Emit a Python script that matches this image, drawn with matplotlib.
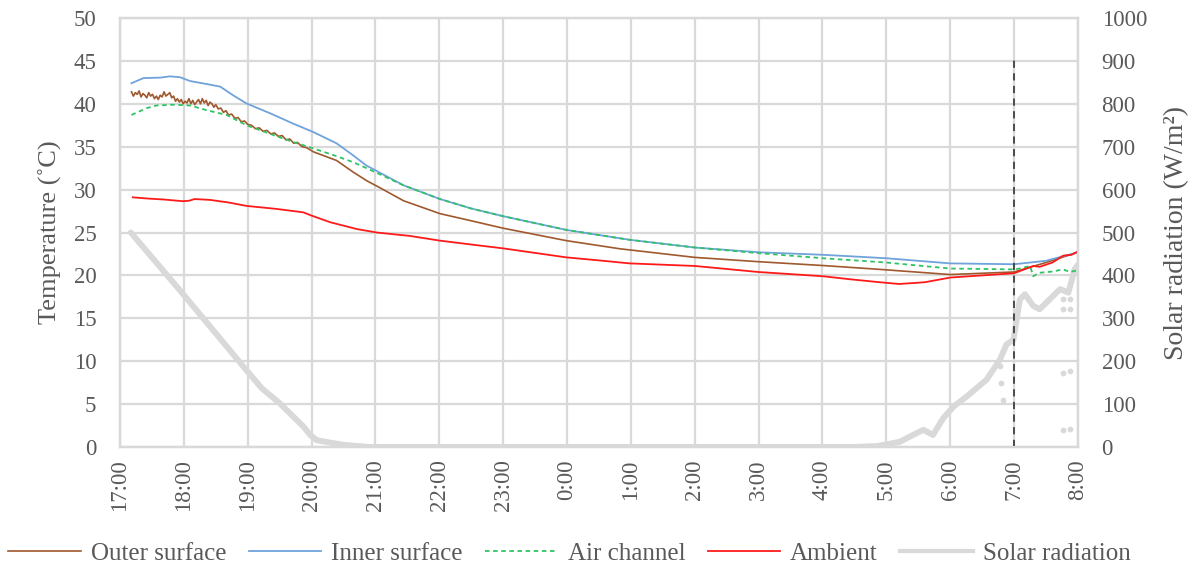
import matplotlib
matplotlib.use("Agg")
import matplotlib.pyplot as plt

plt.rcParams['font.family'] = ['Liberation Serif', 'DejaVu Serif']

# Hours after 17:00
hour_labels = ["17:00", "18:00", "19:00", "20:00", "21:00", "22:00", "23:00", "0:00",
               "1:00", "2:00", "3:00", "4:00", "5:00", "6:00", "7:00", "8:00"]

outer_t = [0.18, 0.21, 0.24, 0.27, 0.30, 0.33, 0.36, 0.39, 0.42, 0.45, 0.48, 0.51, 0.54,
           0.57, 0.60, 0.63, 0.66, 0.69, 0.72, 0.75, 0.78, 0.81, 0.84, 0.87, 0.90, 0.93,
           0.96, 0.99, 1.02, 1.05, 1.08, 1.11, 1.14, 1.17, 1.20, 1.23, 1.26, 1.29, 1.32,
           1.35, 1.38, 1.41, 1.44, 1.47, 1.50, 1.54, 1.58, 1.62, 1.66, 1.70, 1.75, 1.80,
           1.85, 1.90, 1.95, 2.00, 2.06, 2.12, 2.18, 2.24, 2.30, 2.36, 2.42, 2.48, 2.54,
           2.60, 2.66, 2.72, 2.78, 2.85, 2.92, 3.03, 3.39, 3.65, 3.86, 4.05, 4.44, 5.01,
           5.48, 6.00, 6.99, 7.83, 9.00, 9.99, 11.01, 11.90, 13.00, 14.00, 14.50, 15.00]
outer_T = [41.4, 40.9, 41.3, 41.1, 41.5, 40.8, 41.2, 41.0, 40.7, 41.3, 40.9, 41.1, 40.6,
           40.9, 40.5, 41.0, 40.8, 41.4, 40.9, 41.1, 41.3, 40.7, 40.9, 40.3, 40.6, 40.2,
           40.5, 40.0, 40.3, 40.1, 40.6, 40.0, 40.4, 39.9, 40.2, 40.5, 40.0, 40.6, 40.1,
           40.4, 39.8, 40.2, 40.0, 39.6, 39.9, 39.4, 39.5, 39.0, 39.2, 38.7, 38.8, 38.3,
           38.4, 37.9, 38.0, 37.6, 37.5, 37.1, 37.2, 36.8, 36.9, 36.5, 36.6, 36.2, 36.3,
           35.8, 35.9, 35.4, 35.5, 35.0, 34.9, 34.4, 33.4, 32.05, 31.05, 30.3, 28.7, 27.2,
           26.4, 25.5, 24.05, 23.1, 22.1, 21.6, 21.15, 20.7, 20.1, 20.4, 21.5, 22.7]

inner_t = [0.18, 0.37, 0.63, 0.78, 0.94, 1.10, 1.36, 1.57, 1.77, 1.98, 2.35, 2.71, 3.03,
           3.39, 3.65, 3.86, 4.05, 4.44, 5.01, 5.50, 6.00, 6.99, 7.98, 9.00, 9.99, 11.01,
           12.00, 13.00, 14.00, 14.50, 14.75, 15.00]
inner_T = [42.4, 43.0, 43.05, 43.2, 43.1, 42.65, 42.3, 42.0, 41.0, 40.05, 38.9, 37.7, 36.7,
           35.4, 34.0, 32.8, 32.05, 30.5, 28.9, 27.8, 26.9, 25.3, 24.15, 23.25, 22.7, 22.4,
           22.0, 21.4, 21.3, 21.7, 22.2, 22.7]

air_t = [0.18, 0.42, 0.57, 0.84, 1.10, 1.36, 1.67, 1.98, 2.35, 2.71, 3.03, 3.39, 3.65,
         3.86, 4.05, 4.44, 5.01, 5.50, 6.00, 6.99, 7.98, 9.00, 9.99, 11.01, 12.00, 13.00,
         14.00, 14.09, 14.25, 14.30, 14.39, 14.60, 14.77, 14.87, 15.00]
air_T = [38.7, 39.5, 39.8, 39.9, 39.8, 39.25, 38.7, 37.5, 36.5, 35.55, 34.8, 33.9, 33.2,
         32.5, 31.85, 30.5, 28.9, 27.8, 26.9, 25.3, 24.15, 23.25, 22.6, 22.0, 21.5, 20.8,
         20.7, 20.8, 21.1, 19.9, 20.3, 20.45, 20.7, 20.4, 20.6]

ambient_t = [0.20, 0.45, 0.68, 0.98, 1.08, 1.17, 1.41, 1.70, 1.98, 2.45, 2.87, 3.00, 3.29,
             3.71, 4.02, 4.54, 5.01, 5.50, 6.00, 6.99, 7.50, 7.98, 9.00, 9.99, 11.01, 11.43,
             11.90, 12.20, 12.60, 13.00, 13.50, 14.00, 14.30, 14.40, 14.60, 14.77, 14.90, 15.00]
ambient_T = [29.1, 28.95, 28.85, 28.65, 28.7, 28.9, 28.8, 28.5, 28.1, 27.75, 27.35, 26.97, 26.2,
             25.4, 25.0, 24.6, 24.05, 23.6, 23.15, 22.1, 21.75, 21.4, 21.1, 20.4, 19.9, 19.55,
             19.2, 19.0, 19.2, 19.75, 20.0, 20.25, 21.1, 21.0, 21.5, 22.3, 22.4, 22.8]

solar_t = [0.17, 0.98, 1.98, 2.22, 2.50, 2.87, 2.98, 3.08, 3.30, 3.50, 3.90, 11.48, 11.85,
           12.21, 12.47, 12.58, 12.73, 12.89, 13.05, 13.26, 13.57, 13.78, 13.88, 13.99,
           14.09, 14.17, 14.30, 14.40, 14.61, 14.72, 14.85, 14.95, 15.00]
solar_v = [500, 358, 179, 137, 102, 48, 28, 16, 10, 5, 0, 0, 2,
           12, 32, 40, 28, 67, 94, 118, 157, 204, 239, 250,
           344, 356, 329, 321, 352, 368, 360, 415, 425]

# isolated radiation readings
solar_odd_t = [13.78, 13.80, 13.82, 14.77, 14.77, 14.87, 14.87, 14.77, 14.87, 14.77, 14.87]
solar_odd_v = [188, 150, 110, 344, 321, 344, 321, 173, 176, 40, 42]

fig = plt.figure(figsize=(11.96, 5.70), dpi=100)
ax = fig.add_axes([0.1003, 0.2158, 0.8010, 0.7526])
ax2 = ax.twinx()

grid_c = '#D9D9D9'
text_c = '#595959'

ax2.plot(solar_t, solar_v, color='#D9D9D9', lw=4.3, solid_capstyle='round', zorder=1,
         label='Solar radiation')
ax2.scatter(solar_odd_t, solar_odd_v, s=10, color='#D9D9D9', zorder=1)
ax2.set_ylim(0, 1000)
ax2.set_yticks(range(0, 1001, 100))

ax.set_zorder(ax2.get_zorder() + 1)
ax.patch.set_visible(False)

l1, = ax.plot(outer_t, outer_T, color='#A0582E', lw=1.2, label='Outer surface')
l2, = ax.plot(inner_t, inner_T, color='#6FA3DA', lw=1.3, label='Inner surface')
l3, = ax.plot(air_t, air_T, color='#2FC463', lw=1.3, ls=(0, (2.5, 2)), label='Air channel')
l4, = ax.plot(ambient_t, ambient_T, color='#FF1A1A', lw=1.3, label='Ambient')
ax.vlines(14, 0, 45.3, color='#404040', lw=1.3, ls=(0, (4, 3)))

ax.set_xlim(0, 15)
ax.set_ylim(0, 50)
ax.set_xticks(range(16))
ax.set_xticklabels(hour_labels, rotation=90)
ax.set_yticks(range(0, 51, 5))
ax.grid(True, color=grid_c, lw=1.6)
ax.set_axisbelow(True)

for a in (ax, ax2):
    for s in a.spines.values():
        s.set_color(grid_c)
        s.set_linewidth(1.6)
    a.tick_params(length=0, labelsize=16.5, colors=text_c)
ax.tick_params(axis='x', pad=9)
ax.tick_params(axis='y', pad=17)
ax2.tick_params(axis='y', pad=17)

ax.set_ylabel('Temperature (˚C)', fontsize=19, color=text_c, labelpad=8)
ax2.set_ylabel('Solar radiation (W/m²)', fontsize=20, color=text_c, labelpad=12)

solar_handle = plt.Line2D([], [], color='#D9D9D9', lw=3)
fig.legend([l1, l2, l3, l4, solar_handle],
           ['Outer surface', 'Inner surface', 'Air channel', 'Ambient', 'Solar radiation'],
           loc='lower center', bbox_to_anchor=(0.476, -0.03), ncol=5, frameon=False,
           fontsize=18, handlelength=2.9, columnspacing=0.9, handletextpad=0.4,
           labelcolor=text_c)

fig.savefig('out.png', dpi=100)
